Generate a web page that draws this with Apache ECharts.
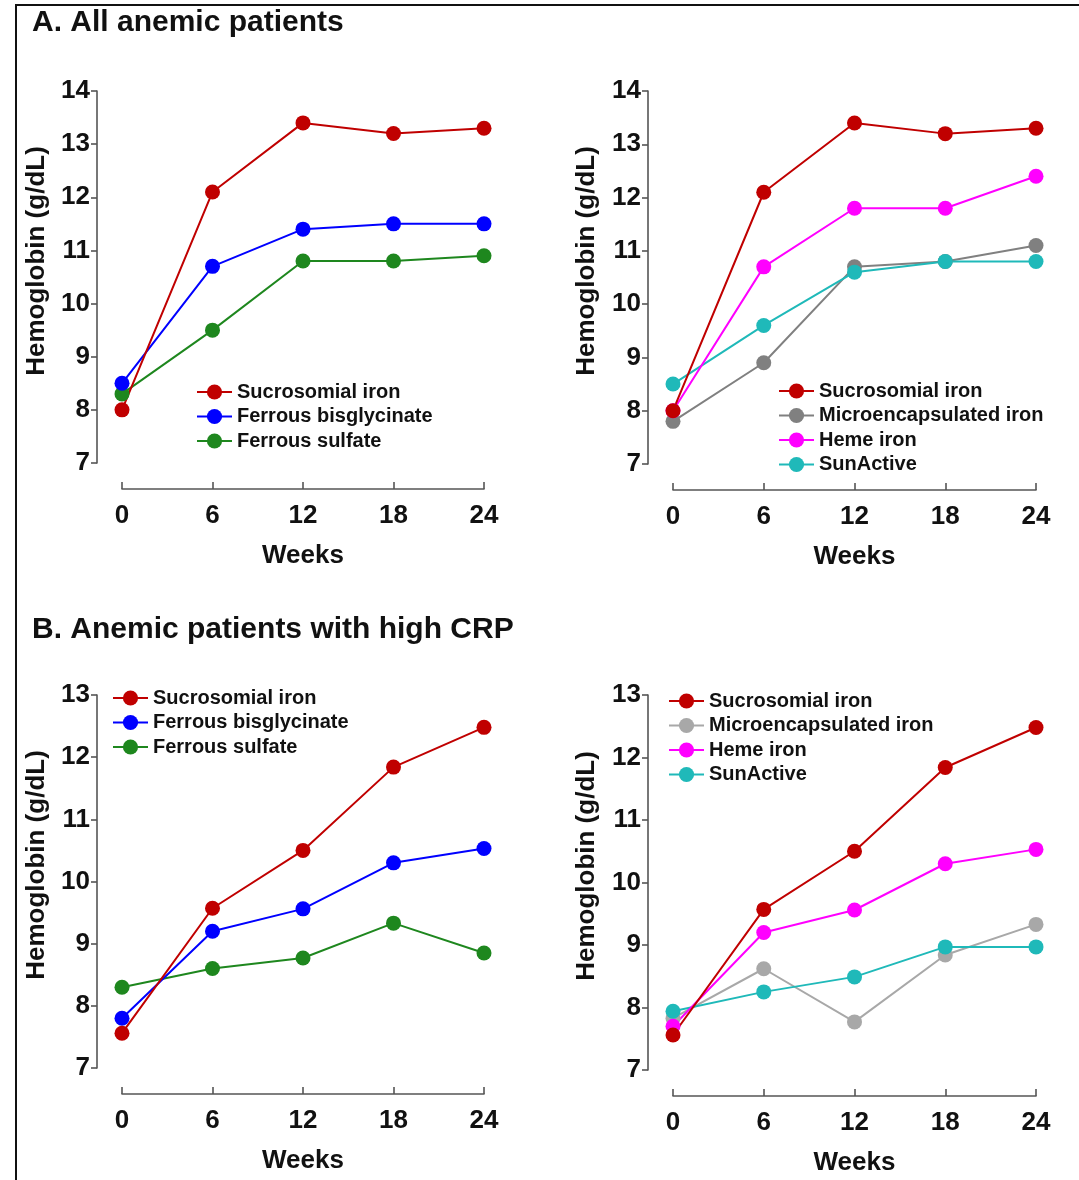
<!DOCTYPE html>
<html>
<head>
<meta charset="utf-8">
<title>Hemoglobin response by iron formulation</title>
<script src="https://cdn.jsdelivr.net/npm/echarts@6/dist/echarts.min.js"></script>
<style>
  html, body { margin: 0; padding: 0; background: #ffffff; }
  #chart { width: 1079px; height: 1180px; }
</style>
</head>
<body>
<div id="chart"></div>
<script>
// Time points (weeks of supplementation)
const weeks = [0, 6, 12, 18, 24];
const weekTicks = [0, 6, 12, 18, 24];

// Mean hemoglobin (g/dL), all anemic patients
const sucrosomialAll = [8.0, 12.1, 13.4, 13.2, 13.3];
const bisglycinateAll = [8.5, 10.7, 11.4, 11.5, 11.5];
const sulfateAll = [8.3, 9.5, 10.8, 10.8, 10.9];
const microencapsulatedAll = [7.8, 8.9, 10.7, 10.8, 11.1];
const hemeAll = [8.0, 10.7, 11.8, 11.8, 12.4];
const sunActiveAll = [8.5, 9.6, 10.6, 10.8, 10.8];

// Mean hemoglobin (g/dL), anemic patients with high CRP
const sucrosomialCrp = [7.56, 9.57, 10.5, 11.84, 12.48];
const bisglycinateCrp = [7.8, 9.2, 9.56, 10.3, 10.53];
const sulfateCrp = [8.3, 8.6, 8.77, 9.33, 8.85];
const microencapsulatedCrp = [7.83, 8.62, 7.77, 8.84, 9.33];
const hemeCrp = [7.7, 9.2, 9.56, 10.3, 10.53];
const sunActiveCrp = [7.94, 8.25, 8.49, 8.97, 8.97];

// Y-axis tick ranges
const yTicksAll = [7, 8, 9, 10, 11, 12, 13, 14];
const yTicksCrp = [7, 8, 9, 10, 11, 12, 13];

const FONT = "'Liberation Sans', Arial, sans-serif";
const AXIS_COLOR = '#555555';
const TEXT_COLOR = '#111111';

const COLORS = {
  'Sucrosomial iron': '#C00000',
  'Ferrous bisglycinate': '#0000FF',
  'Ferrous sulfate': '#1E871E',
  'Microencapsulated iron': '#808080',
  'Heme iron': '#FF00FF',
  'SunActive': '#1FB9B9'
};
const GREY_LIGHT = '#A8A8A8';

// Panel frames: left/top/width/height of the plotting area
const panels = [
  { left: 122, top: 91, width: 362, height: 372, yTicks: yTicksAll },
  { left: 673, top: 91, width: 363, height: 373, yTicks: yTicksAll },
  { left: 122, top: 695, width: 362, height: 373, yTicks: yTicksCrp },
  { left: 673, top: 695, width: 363, height: 375, yTicks: yTicksCrp }
];

const toPoints = (vals) => weeks.map((w, i) => [w, vals[i]]);

function lineSeries(name, vals, idx, color) {
  const c = color || COLORS[name];
  return {
    name: name,
    type: 'line',
    xAxisIndex: idx,
    yAxisIndex: idx,
    data: toPoints(vals),
    symbol: 'circle',
    symbolSize: 15,
    lineStyle: { color: c, width: 2 },
    itemStyle: { color: c },
    emphasis: { disabled: true },
    animation: false
  };
}

const axisLineStyle = { color: AXIS_COLOR, width: 1.6 };
const tickLabel = { fontSize: 26, fontWeight: 'bold', color: TEXT_COLOR, fontFamily: FONT };

const grids = panels.map(p => ({
  left: p.left, top: p.top, width: p.width, height: p.height,
  containLabel: false, outerBoundsMode: 'none'
}));

const xAxes = panels.map((p, i) => ({
  gridIndex: i,
  type: 'value',
  min: weekTicks[0],
  max: weekTicks[weekTicks.length - 1],
  interval: 6,
  offset: 26,
  axisLine: { show: true, onZero: false, lineStyle: axisLineStyle },
  axisTick: { show: true, inside: true, length: 7, lineStyle: axisLineStyle },
  axisLabel: Object.assign({ margin: 14 }, tickLabel),
  splitLine: { show: false },
  name: 'Weeks',
  nameLocation: 'middle',
  nameGap: 54,
  nameTextStyle: { fontSize: 26, fontWeight: 'bold', color: TEXT_COLOR, fontFamily: FONT }
}));

const yAxes = panels.map((p, i) => ({
  gridIndex: i,
  type: 'value',
  min: p.yTicks[0],
  max: p.yTicks[p.yTicks.length - 1],
  interval: 1,
  offset: 25,
  axisLine: { show: true, onZero: false, lineStyle: axisLineStyle },
  axisTick: { show: true, inside: false, length: 6, lineStyle: axisLineStyle },
  axisLabel: Object.assign({ margin: 7 }, tickLabel),
  splitLine: { show: false }
}));

const series = [
  // A, left
  lineSeries('Ferrous sulfate', sulfateAll, 0),
  lineSeries('Ferrous bisglycinate', bisglycinateAll, 0),
  lineSeries('Sucrosomial iron', sucrosomialAll, 0),
  // A, right
  lineSeries('Microencapsulated iron', microencapsulatedAll, 1),
  lineSeries('SunActive', sunActiveAll, 1),
  lineSeries('Heme iron', hemeAll, 1),
  lineSeries('Sucrosomial iron', sucrosomialAll, 1),
  // B, left
  lineSeries('Ferrous sulfate', sulfateCrp, 2),
  lineSeries('Ferrous bisglycinate', bisglycinateCrp, 2),
  lineSeries('Sucrosomial iron', sucrosomialCrp, 2),
  // B, right
  lineSeries('Microencapsulated iron', microencapsulatedCrp, 3, GREY_LIGHT),
  lineSeries('SunActive', sunActiveCrp, 3),
  lineSeries('Heme iron', hemeCrp, 3),
  lineSeries('Sucrosomial iron', sucrosomialCrp, 3)
];

const legendNamesLeft = ['Sucrosomial iron', 'Ferrous bisglycinate', 'Ferrous sulfate'];
const legendNamesRight = ['Sucrosomial iron', 'Microencapsulated iron', 'Heme iron', 'SunActive'];

function legendBlock(names, left, top, greyColor) {
  return {
    orient: 'vertical',
    left: left,
    top: top,
    padding: 0,
    itemWidth: 35,
    itemHeight: 19,
    itemGap: 4.5,
    selectedMode: false,
    textStyle: { fontSize: 20, fontWeight: 'bold', color: TEXT_COLOR, fontFamily: FONT },
    data: names.map(n => {
      const c = (n === 'Microencapsulated iron' && greyColor) ? greyColor : COLORS[n];
      return { name: n, itemStyle: { color: c }, lineStyle: { color: c, width: 2 } };
    })
  };
}

const legends = [
  legendBlock(legendNamesLeft, 196, 382),
  legendBlock(legendNamesRight, 778, 381),
  legendBlock(legendNamesLeft, 112, 688),
  legendBlock(legendNamesRight, 668, 691, GREY_LIGHT)
];

const titleStyle = { fontSize: 30, fontWeight: 'bold', color: TEXT_COLOR, fontFamily: FONT };

// Rotated y-axis captions
const yNameCenters = [[37, 261], [587, 261], [37, 865], [587, 866]];
const yNames = yNameCenters.map(([x, y]) => ({
  type: 'text',
  x: x,
  y: y,
  rotation: Math.PI / 2,
  style: {
    text: 'Hemoglobin (g/dL)',
    fill: TEXT_COLOR,
    font: 'bold 26px ' + FONT,
    align: 'center',
    verticalAlign: 'middle'
  },
  silent: true
}));

const option = {
  backgroundColor: '#ffffff',
  animation: false,
  title: [
    { text: 'A. All anemic patients', left: 32, top: 8, padding: 0, textStyle: titleStyle },
    { text: 'B. Anemic patients with high CRP', left: 32, top: 615, padding: 0, textStyle: titleStyle }
  ],
  legend: legends,
  grid: grids,
  xAxis: xAxes,
  yAxis: yAxes,
  series: series,
  graphic: [
    {
      type: 'polyline',
      shape: { points: [[16, 1180], [16, 5], [1079, 5]] },
      style: { stroke: '#111111', lineWidth: 2, fill: null },
      silent: true
    }
  ].concat(yNames)
};

const chart = echarts.init(document.getElementById('chart'), null, { renderer: 'canvas' });
chart.setOption(option);
</script>
</body>
</html>
